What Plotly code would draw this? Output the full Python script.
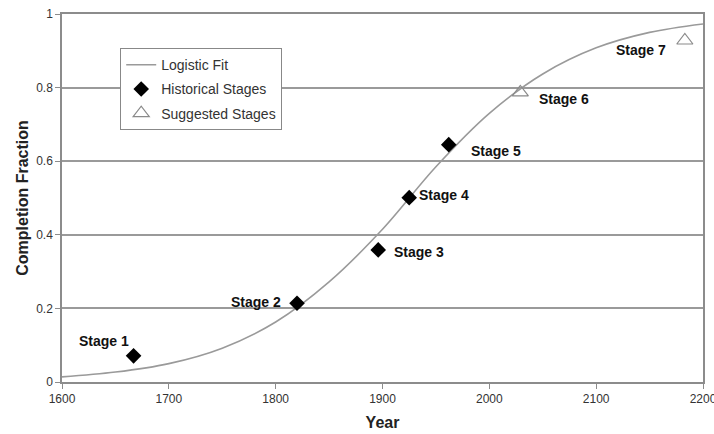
import plotly.graph_objects as go

# Logistic fit curve
fit_years = [1600, 1650, 1700, 1750, 1800, 1850, 1900, 1950, 2000, 2050, 2100, 2150, 2200]
fit_values = [0.014, 0.027, 0.050, 0.092, 0.163, 0.272, 0.415, 0.585, 0.730, 0.837, 0.908, 0.950, 0.973]

# Historical stages
hist_labels = ["Stage 1", "Stage 2", "Stage 3", "Stage 4", "Stage 5"]
hist_years = [1667, 1820, 1896, 1925, 1962]
hist_values = [0.071, 0.214, 0.359, 0.501, 0.645]

# Suggested stages
sugg_labels = ["Stage 6", "Stage 7"]
sugg_years = [2029, 2183]
sugg_values = [0.787, 0.928]

x_ticks = [1600, 1700, 1800, 1900, 2000, 2100, 2200]
y_ticks = [0, 0.2, 0.4, 0.6, 0.8, 1]
y_tick_text = ["0", "0.2", "0.4", "0.6", "0.8", "1"]

FONT = "Liberation Sans, Arial, sans-serif"

fig = go.Figure()
fig.add_trace(go.Scatter(x=fit_years, y=fit_values, mode="lines", name="Logistic Fit",
                         legendgroup="a",
                         line=dict(color="#9a9a9a", width=1.6, shape="spline"),
                         hoverinfo="skip"))
fig.add_trace(go.Scatter(x=hist_years, y=hist_values, mode="markers", name="Historical Stages",
                         legendgroup="b",
                         marker=dict(symbol="diamond", size=12, color="black")))
fig.add_trace(go.Scatter(x=sugg_years, y=sugg_values, mode="markers", name="Suggested Stages",
                         legendgroup="c",
                         marker=dict(symbol="triangle-up-open", size=14, color="#8a8a8a",
                                     line=dict(width=1.2, color="#8a8a8a"))))

offsets = [(-30, 15), (-41, 1), (41, -2), (35, 3), (47, -6), (44, -7), (-44, -9)]
all_labels = hist_labels + sugg_labels
all_x = hist_years + sugg_years
all_y = hist_values + sugg_values
for lab, xv, yv, (dx, dy) in zip(all_labels, all_x, all_y, offsets):
    fig.add_annotation(x=xv, y=yv, text="<b>" + lab + "</b>", showarrow=False,
                       xshift=dx, yshift=dy,
                       font=dict(family=FONT, size=14, color="#111"))

fig.update_layout(
    width=714, height=434,
    margin=dict(l=62, r=11, t=14, b=52, autoexpand=False),
    paper_bgcolor="white", plot_bgcolor="white",
    font=dict(family=FONT, color="#222"),
    showlegend=True,
    legend=dict(x=0.0905, y=0.9076, xanchor="left", yanchor="top",
                bgcolor="white", bordercolor="#888", borderwidth=1.2,
                itemwidth=30,
                font=dict(size=14, color="#333"), tracegroupgap=3),
    xaxis=dict(range=[1600, 2200], tickvals=x_ticks, ticktext=[str(v) for v in x_ticks],
               showgrid=False, zeroline=False, showline=True, linecolor="#8c8c8c", linewidth=1.5,
               mirror=True, ticks="outside", ticklen=5, tickcolor="#8c8c8c", automargin=False,
               ticklabeloverflow="allow",
               tickfont=dict(size=12, color="#333"),
               title=dict(text="<b>Year</b>", font=dict(size=16, color="#222"), standoff=12)),
    yaxis=dict(range=[0, 1], tickvals=y_ticks, ticktext=y_tick_text,
               showgrid=True, gridcolor="#9a9a9a", gridwidth=1.5, zeroline=False,
               showline=True, linecolor="#8c8c8c", linewidth=1.5, mirror=True, automargin=False,
               ticks="outside", ticklen=5, tickcolor="#8c8c8c",
               tickfont=dict(size=12, color="#333"),
               title=dict(text="<b>Completion Fraction</b>", font=dict(size=16, color="#222"), standoff=4)),
)

fig.write_html("out.html", config={"displayModeBar": False},
               post_script="document.body.style.margin='0';")
